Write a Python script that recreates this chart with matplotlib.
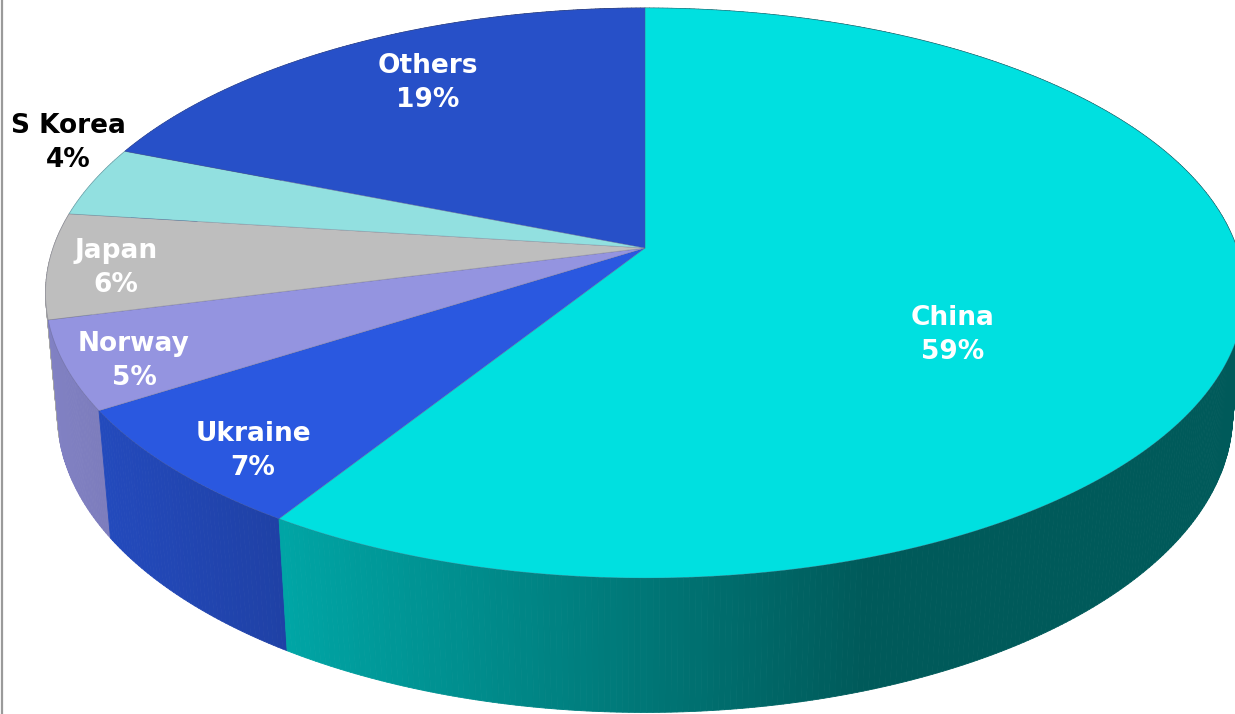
import numpy as np
import matplotlib
matplotlib.use("Agg")
import matplotlib.pyplot as plt
from matplotlib.patches import Polygon
from matplotlib.collections import PolyCollection
from matplotlib.colors import to_rgb

# Share of total, clockwise from 12 o'clock
countries = ["China", "Ukraine", "Norway", "Japan", "S Korea", "Others"]
shares = [59, 7, 5, 6, 4, 19]
top_colors = ["#00E0E0", "#2A58E0", "#9494E0", "#BEBEBE", "#92E0E0", "#2750C8"]
label_colors = ["white", "white", "white", "white", "black", "white"]
label_pos = [(953, 335), (253, 451), (134, 361), (116, 268), (68, 143), (428, 83)]

W, H = 1235, 714
fig = plt.figure(figsize=(W / 100, H / 100), dpi=100)
ax = fig.add_axes([0, 0, 1, 1])
ax.set_xlim(0, W)
ax.set_ylim(H, 0)
ax.axis("off")

# Perspective view of a flat cylinder (unit radius, thickness THICK)
CX, CY = 645.0, 248.0
ELEV = np.deg2rad(28.0)
S, C = np.sin(ELEV), np.cos(ELEV)
DIST = 5.59
K = 3309.0
THICK = 0.234


def project(phi, z):
    x, y = np.cos(phi), np.sin(phi)
    Y = y * S + z * C
    d = DIST + y * C - z * S
    return CX + K * x / d, CY - K * Y / d, d


def shade(px):
    return float(np.clip(0.87 - 0.000573 * (px - 50), 0.40, 0.9))


total = float(sum(shares))
bounds = [0.0]
for v in shares:
    bounds.append(bounds[-1] + v / total)
angles = [np.pi / 2 - 2 * np.pi * b for b in bounds]

# Outer walls, painted far to near
quads, cols, depths = [], [], []
for i in range(len(shares)):
    a0, a1 = angles[i], angles[i + 1]
    n = max(4, int(abs(a1 - a0) / np.deg2rad(0.5)))
    ph = np.linspace(a0, a1, n + 1)
    base = np.array(to_rgb(top_colors[i]))
    for j in range(n):
        p1 = project(ph[j], 0)
        p2 = project(ph[j + 1], 0)
        p3 = project(ph[j + 1], -THICK)
        p4 = project(ph[j], -THICK)
        quad = [(p1[0], p1[1]), (p2[0], p2[1]), (p3[0], p3[1]), (p4[0], p4[1])]
        mx = 0.5 * (p1[0] + p2[0])
        f = shade(mx)
        quads.append(quad)
        cols.append(tuple(base * f))
        depths.append(0.5 * (p1[2] + p2[2]))
order = np.argsort(depths)[::-1]
pc = PolyCollection([quads[k] for k in order],
                    facecolors=[cols[k] for k in order],
                    edgecolors=[cols[k] for k in order],
                    linewidths=0.6, antialiased=True, zorder=1)
ax.add_collection(pc)

# Top faces
for i in range(len(shares)):
    a0, a1 = angles[i], angles[i + 1]
    n = max(8, int(abs(a1 - a0) / np.deg2rad(0.25)))
    ph = np.linspace(a0, a1, n + 1)
    xs, ys, _ = project(ph, 0.0)
    pts = [(CX, CY)] + list(zip(xs, ys))
    ax.add_patch(Polygon(pts, closed=True, facecolor=top_colors[i],
                         edgecolor=(0.35, 0.35, 0.45, 0.35), linewidth=0.5,
                         zorder=2))

# Slice labels
for name, v, (lx, ly), col in zip(countries, shares, label_pos, label_colors):
    ax.text(lx, ly, f"{name}\n{v}%", ha="center", va="center",
            fontsize=19, fontweight="bold", family="DejaVu Sans",
            color=col, linespacing=1.36, zorder=5)

# Chart-area border on the left
ax.plot([1.5, 1.5], [0, H], color="#9a9a9a", linewidth=1.6, zorder=6,
        solid_capstyle="butt")

fig.savefig("out.png", dpi=100)
